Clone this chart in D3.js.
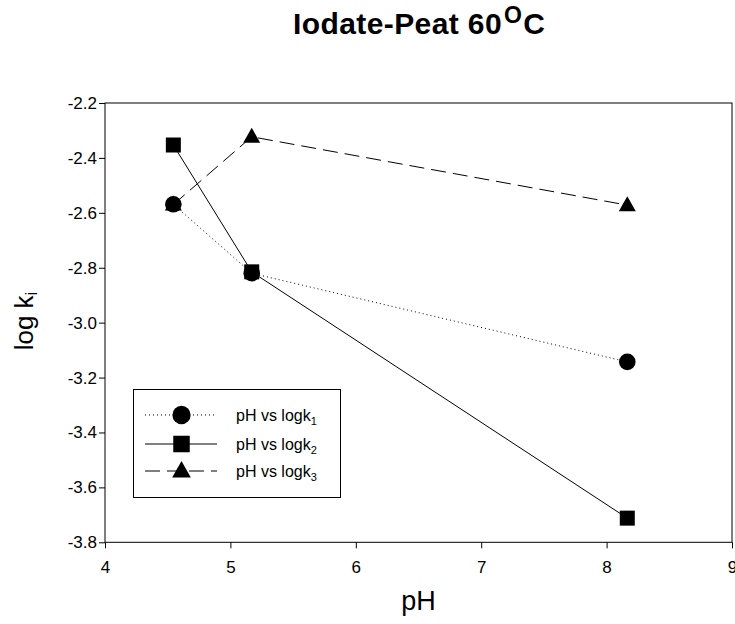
<!DOCTYPE html>
<html>
<head>
<meta charset="utf-8">
<script src="https://cdn.jsdelivr.net/npm/d3@7"></script>
<style>
  body { margin: 0; background: #fff; }
  svg { display: block; font-family: "Liberation Sans", Arial, sans-serif; }
</style>
</head>
<body>
<div id="chart"></div>
<script>
// data
const phValues = [4.545, 5.17, 8.165];
const logk1 = [-2.569, -2.820, -3.143];
const logk2 = [-2.353, -2.815, -3.712];
const logk3 = [-2.570, -2.323, -2.572];
const seriesNames = ["pH vs logk", "pH vs logk", "pH vs logk"];
const seriesSubs = ["1", "2", "3"];
const xTicks = [4, 5, 6, 7, 8, 9];
const yTicks = [-3.8, -3.6, -3.4, -3.2, -3.0, -2.8, -2.6, -2.4, -2.2];

const width = 735, height = 624;
const plot = {left: 105, right: 732, top: 103, bottom: 542.3};

const svg = d3.select("#chart")
  .append("svg")
    .attr("width", width)
    .attr("height", height);

const x = d3.scaleLinear().domain([4, 9]).range([plot.left, plot.right]);
const y = d3.scaleLinear().domain([-3.8, -2.2]).range([plot.bottom, plot.top]);

// title
const title = svg.append("text")
  .attr("x", 293)
  .attr("y", 34)
  .attr("font-size", "30px")
  .attr("font-weight", "bold")
  .attr("letter-spacing", "0.4px")
  .attr("fill", "#000");
title.append("tspan").text("Iodate-Peat 60");
title.append("tspan").attr("font-size", "23px").attr("dy", -11).attr("dx", 2).text("O");
title.append("tspan").attr("dy", 11).attr("dx", 1).text("C");

// frame
svg.append("rect")
  .attr("x", plot.left)
  .attr("y", plot.top)
  .attr("width", plot.right - plot.left)
  .attr("height", plot.bottom - plot.top)
  .attr("fill", "none")
  .attr("stroke", "#000")
  .attr("stroke-width", 1);

// axes
const yAxis = svg.append("g")
  .attr("transform", `translate(${plot.left},0)`)
  .call(d3.axisLeft(y).tickValues(yTicks).tickFormat(d3.format(".1f")).tickSize(6).tickPadding(2));
const xAxis = svg.append("g")
  .attr("transform", `translate(0,${plot.bottom})`)
  .call(d3.axisBottom(x).tickValues(xTicks).tickFormat(d3.format("d")).tickSize(6).tickPadding(13));

[xAxis, yAxis].forEach(a => {
  a.select(".domain").remove();
  a.selectAll("line").attr("stroke", "#000");
  a.selectAll("text")
    .attr("font-family", "\"Liberation Sans\", Arial, sans-serif")
    .attr("font-size", "17px")
    .attr("fill", "#000");
});
yAxis.selectAll("text").text(d => d3.format(".1f")(d).replace("−", "-"));

// axis titles
svg.append("text")
  .attr("x", (plot.left + plot.right) / 2)
  .attr("y", 610)
  .attr("text-anchor", "middle")
  .attr("font-size", "27px")
  .text("pH");

const yLabel = svg.append("text")
  .attr("transform", "translate(33,321) rotate(-90)")
  .attr("text-anchor", "middle")
  .attr("font-size", "26px");
yLabel.append("tspan").text("log k");
yLabel.append("tspan").attr("font-size", "17px").attr("dy", 4).text("i");

// series
const series = [
  {values: logk1, dash: "1,3", shape: "circle"},
  {values: logk2, dash: null, shape: "square"},
  {values: logk3, dash: "15,7", shape: "triangle"}
];

const line = d3.line()
  .x(d => x(d[0]))
  .y(d => y(d[1]));

series.forEach(s => {
  svg.append("path")
    .datum(phValues.map((p, i) => [p, s.values[i]]))
    .attr("d", line)
    .attr("fill", "none")
    .attr("stroke", "#000")
    .attr("stroke-width", 1)
    .attr("stroke-dasharray", s.dash);
});

function drawMarker(g, shape, cx, cy, big) {
  const k = big ? 1.1 : 1;
  if (shape === "circle") {
    g.append("circle").attr("cx", cx).attr("cy", cy).attr("r", 8.3 * k).attr("fill", "#000");
  } else if (shape === "square") {
    const s = 15 * k;
    g.append("rect").attr("x", cx - s / 2).attr("y", cy - s / 2).attr("width", s).attr("height", s).attr("fill", "#000");
  } else {
    const w = 17 * k, h = 15 * k;
    g.append("path")
      .attr("d", `M${cx},${cy - h * 0.6}L${cx + w / 2},${cy + h * 0.4}L${cx - w / 2},${cy + h * 0.4}Z`)
      .attr("fill", "#000");
  }
}

// triangles first, circles last (circle covers the first triangle)
const markers = svg.append("g");
[2, 1, 0].forEach(si => {
  phValues.forEach((p, i) => drawMarker(markers, series[si].shape, x(p), y(series[si].values[i]), false));
});

// legend
const legend = svg.append("g");
legend.append("rect")
  .attr("x", 133.5)
  .attr("y", 389.5)
  .attr("width", 207)
  .attr("height", 108)
  .attr("fill", "#fff")
  .attr("stroke", "#000")
  .attr("stroke-width", 1);

const rowY = [415, 444, 471];
series.forEach((s, i) => {
  legend.append("line")
    .attr("x1", 145).attr("x2", 217)
    .attr("y1", rowY[i]).attr("y2", rowY[i])
    .attr("stroke", "#000")
    .attr("stroke-dasharray", s.dash);
  drawMarker(legend, s.shape, 181.5, rowY[i], true);
  const t = legend.append("text")
    .attr("x", 236)
    .attr("y", rowY[i] + 6)
    .attr("font-size", "16px");
  t.append("tspan").text(seriesNames[i]);
  t.append("tspan").attr("font-size", "11px").attr("dy", 4).text(seriesSubs[i]);
});
</script>
</body>
</html>
